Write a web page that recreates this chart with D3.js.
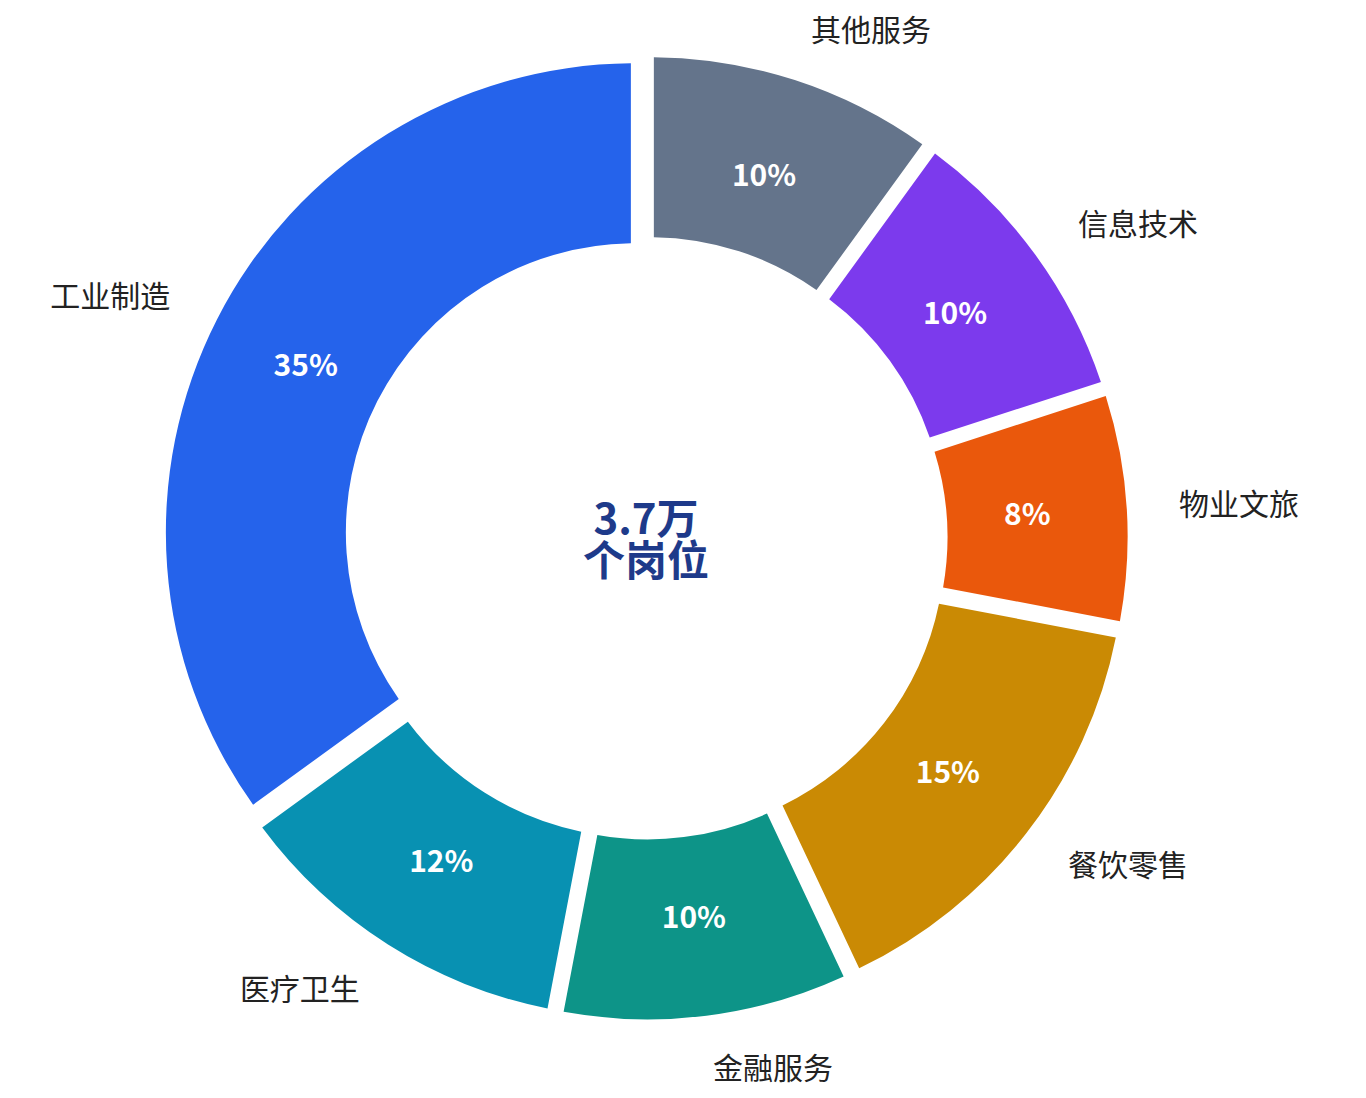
<!DOCTYPE html>
<html>
<head>
<meta charset="utf-8">
<script src="https://cdn.jsdelivr.net/npm/d3@7"></script>
<style>
  body { margin: 0; background: #fff; }
</style>
</head>
<body>
<div id="chart"></div>
<script>
const categories = ["其他服务", "信息技术", "物业文旅", "餐饮零售", "金融服务", "医疗卫生", "工业制造"];
const values = [10, 10, 8, 15, 10, 12, 35];
const colors = ["#64748b", "#7c3aed", "#ea580c", "#ca8a04", "#0d9488", "#0891b2", "#2563eb"];
const centerLines = ["3.7万", "个岗位"];

const width = 1366, height = 1098;
const cx = 646, cy = 538;
const outer = 469, inner = 289;
const explode = 12.5;

const svg = d3
  .select("#chart")
  .append("svg")
  .attr("width", width)
  .attr("height", height)
  .append("g")
  .attr("transform", `translate(${cx}, ${cy})`);

const data = categories.map((c, i) => ({ name: c, value: values[i], color: colors[i] }));

const pie = d3.pie().sort(null).value((d) => d.value);
const arcs = pie(data);

const arc = d3.arc().innerRadius(inner).outerRadius(outer).padAngle(0.0145);

const mid = (d) => (d.startAngle + d.endAngle) / 2;

svg
  .append("g")
  .selectAll("path")
  .data(arcs)
  .join("path")
  .attr("d", arc)
  .attr("fill", (d) => d.data.color)
  .attr("transform", (d) => {
    const a = mid(d);
    return `translate(${explode * Math.sin(a)}, ${-explode * Math.cos(a)})`;
  });

// percentages inside the ring
const pctR = 382;
svg
  .append("g")
  .selectAll("text")
  .data(arcs)
  .join("text")
  .attr("x", (d) => pctR * Math.sin(mid(d)))
  .attr("y", (d) => -pctR * Math.cos(mid(d)) - 2)
  .attr("text-anchor", "middle")
  .attr("dominant-baseline", "central")
  .attr("font-family", "'Noto Sans CJK SC', 'Noto Sans', sans-serif")
  .attr("font-weight", 600)
  .attr("font-size", "30px")
  .attr("fill", "#fff")
  .text((d) => d.data.value + "%");

// category names outside
const labR = 534;
svg
  .append("g")
  .selectAll("text")
  .data(arcs)
  .join("text")
  .attr("x", (d) => labR * Math.sin(mid(d)))
  .attr("y", (d) => -labR * Math.cos(mid(d)) - 2)
  .attr("text-anchor", (d) => (Math.sin(mid(d)) >= 0 ? "start" : "end"))
  .attr("dominant-baseline", "central")
  .attr("font-family", "'Noto Sans CJK SC', sans-serif")
  .attr("font-size", "30px")
  .attr("fill", "#222")
  .text((d) => d.data.name);

// center text
svg
  .append("g")
  .selectAll("text")
  .data(centerLines)
  .join("text")
  .attr("x", 0)
  .attr("y", (d, i) => -23 + i * 42)
  .attr("text-anchor", "middle")
  .attr("dominant-baseline", "central")
  .attr("font-family", "'Noto Sans CJK SC', sans-serif")
  .attr("font-weight", 700)
  .attr("font-size", "42px")
  .attr("fill", "#1e3a8a")
  .text((d) => d);
</script>
</body>
</html>
